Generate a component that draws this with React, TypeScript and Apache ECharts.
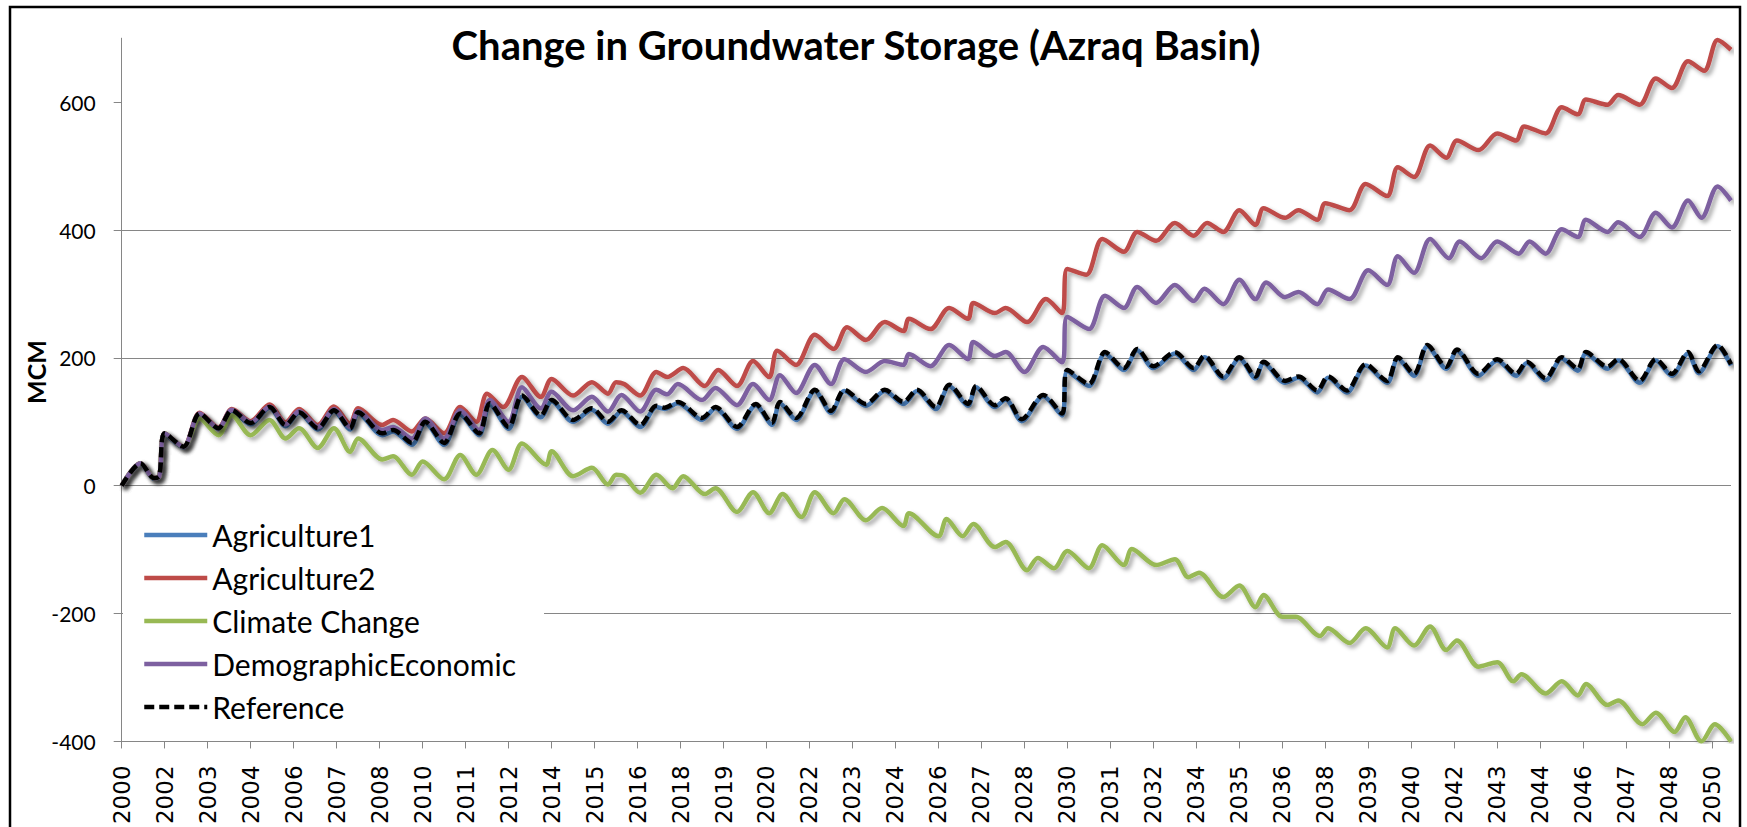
import React, { useEffect, useRef } from 'react';
import * as echarts from 'echarts';

const tickLabels = ['2000','2002','2003','2004','2006','2007','2008','2010','2011','2012','2014','2015','2016','2018','2019','2020','2022','2023','2024','2026','2027','2028','2030','2031','2032','2034','2035','2036','2038','2039','2040','2042','2043','2044','2046','2047','2048','2050'];
const yTicks = [-400, -200, 0, 200, 400, 600];

const seriesNames = ['Agriculture1', 'Agriculture2', 'Climate Change', 'DemographicEconomic', 'Reference'];

// [month index from Oct 2000, MCM]
const agriculture1 = [[0,0],[7,34],[12,11],[14,14],[16,80],[23,60],[29,112],[36,89],[41,117],[48,96],[55,122],[61,93],[66,114],[73,88],[79,117],[85,88],[88,113],[97,79],[101,85],[108,64],[113,98],[120,64],[126,111],[133,79],[137,127],[144,89],[149,139],[156,107],[160,132],[168,100],[175,119],[181,97],[186,116],[193,92],[199,123],[202,120],[207,129],[216,103],[221,121],[229,89],[236,126],[242,95],[245,129],[251,103],[258,148],[264,114],[269,148],[277,125],[284,148],[291,128],[296,148],[303,120],[308,156],[315,125],[318,154],[325,123],[329,135],[335,101],[343,140],[350,110],[352,179],[360,156],[366,207],[373,181],[378,212],[384,184],[392,207],[399,181],[403,201],[410,168],[416,199],[422,168],[425,192],[433,161],[438,169],[445,146],[449,169],[456,146],[463,188],[471,161],[475,199],[481,172],[486,218],[493,183],[497,211],[505,172],[512,196],[519,172],[523,192],[530,165],[536,199],[542,180],[545,207],[553,183],[557,196],[565,161],[571,196],[577,172],[583,207],[587,176],[594,218],[599,188]];

const agriculture2 = [[0,0],[7,35],[12,12],[14,15],[16,82],[23,61],[29,114],[36,91],[41,120],[48,101],[55,127],[61,99],[66,120],[73,95],[79,124],[85,97],[88,121],[97,95],[101,103],[108,85],[113,105],[120,82],[126,123],[132,100],[136,144],[142,123],[149,170],[156,139],[160,167],[168,141],[175,162],[181,144],[184,162],[187,159],[193,141],[199,178],[203,170],[209,184],[217,156],[222,181],[229,156],[235,195],[241,170],[244,211],[251,189],[258,236],[265,214],[270,248],[277,228],[284,256],[291,242],[293,261],[301,245],[308,278],[315,261],[317,286],[325,270],[329,278],[337,256],[344,292],[350,270],[352,339],[359,330],[365,386],[373,366],[378,397],[385,383],[392,411],[399,391],[404,411],[410,397],[416,431],[422,408],[425,434],[433,419],[438,431],[445,416],[448,442],[457,431],[463,472],[471,453],[475,498],[481,483],[487,532],[493,513],[497,540],[505,525],[512,551],[519,540],[522,562],[530,551],[536,592],[542,581],[545,604],[553,596],[557,611],[565,596],[571,637],[577,622],[583,664],[589,649],[594,697],[599,682]];

const climateChange = [[0,0],[7,35],[12,12],[14,15],[16,82],[23,61],[29,105],[36,79],[41,110],[48,79],[55,103],[61,74],[66,90],[73,59],[79,90],[85,53],[88,74],[97,41],[101,46],[108,17],[112,38],[120,10],[126,48],[132,17],[138,56],[144,25],[149,66],[158,33],[160,54],[168,15],[175,28],[181,2],[184,17],[187,15],[193,-11],[199,17],[205,-4],[209,15],[217,-13],[221,-4],[229,-41],[235,-10],[241,-43],[246,-13],[253,-49],[258,-10],[265,-43],[269,-21],[277,-54],[283,-35],[291,-63],[293,-43],[304,-79],[307,-52],[313,-79],[317,-60],[325,-96],[329,-88],[337,-132],[341,-113],[347,-129],[352,-102],[360,-129],[365,-93],[373,-124],[376,-99],[385,-124],[392,-115],[397,-143],[401,-136],[410,-174],[416,-156],[422,-190],[425,-171],[432,-205],[437,-205],[446,-235],[449,-223],[457,-246],[463,-223],[471,-253],[474,-223],[481,-250],[487,-220],[493,-257],[497,-242],[505,-283],[512,-276],[518,-306],[521,-295],[530,-325],[536,-306],[542,-328],[545,-310],[553,-343],[557,-336],[566,-373],[571,-355],[578,-385],[582,-362],[588,-400],[593,-373],[599,-400]];

const demographicEconomic = [[0,0],[7,35],[12,12],[14,15],[16,82],[23,61],[29,113],[36,90],[41,119],[48,99],[55,124],[61,96],[66,117],[73,92],[79,120],[85,92],[88,117],[97,87],[101,92],[108,74],[113,105],[120,74],[126,118],[133,87],[137,134],[144,100],[149,154],[156,121],[160,147],[168,118],[175,139],[181,116],[186,142],[193,116],[199,150],[203,143],[207,159],[216,134],[221,153],[229,126],[235,159],[241,134],[245,173],[251,145],[258,189],[264,159],[269,198],[277,178],[284,195],[291,189],[293,206],[301,187],[308,220],[315,198],[317,225],[325,203],[329,209],[336,178],[343,217],[350,193],[352,264],[360,245],[366,297],[373,278],[378,311],[385,286],[392,314],[399,289],[403,308],[410,284],[416,322],[422,292],[426,318],[433,295],[438,303],[445,284],[449,307],[457,292],[464,337],[471,314],[475,359],[481,333],[487,386],[494,356],[498,382],[506,356],[512,382],[520,363],[524,382],[530,363],[536,401],[542,389],[545,416],[553,397],[557,412],[565,389],[571,427],[577,404],[583,446],[588,419],[594,468],[599,446]];

const reference = [[0,0],[7,35],[12,12],[14,15],[16,82],[23,61],[29,113],[36,90],[41,118],[48,98],[55,123],[61,95],[66,115],[73,90],[79,118],[85,90],[88,115],[97,82],[101,87],[108,67],[113,100],[120,67],[126,113],[133,82],[137,129],[144,92],[149,141],[156,110],[160,134],[168,103],[175,121],[181,100],[186,118],[193,95],[199,125],[202,122],[207,131],[216,106],[221,123],[229,92],[236,128],[242,98],[245,131],[251,106],[258,150],[264,117],[269,150],[277,128],[284,150],[291,131],[296,150],[303,123],[308,158],[315,128],[318,156],[325,126],[329,137],[335,104],[343,142],[350,113],[352,181],[360,159],[366,209],[373,184],[378,214],[384,187],[392,209],[399,184],[403,203],[410,171],[416,201],[422,171],[425,194],[433,164],[438,171],[445,149],[449,171],[456,149],[463,190],[471,164],[475,201],[481,175],[486,220],[493,186],[497,213],[505,175],[512,198],[519,175],[523,194],[530,168],[536,201],[542,183],[545,209],[553,186],[557,198],[565,164],[571,198],[577,175],[583,209],[587,179],[594,220],[599,190]];

const seriesData = [agriculture1, agriculture2, climateChange, demographicEconomic, reference];
const seriesColors = ['#4A7EBB', '#BE4B48', '#98B954', '#7D60A0', '#000000'];

const START_YEAR = 2000;
const START_MONTH = 9; // October (0-based)
const MONTH_COUNT = 600;
const TICK_EVERY = 16;
const months: string[] = [];
for (let i = 0; i < MONTH_COUNT; i++) {
  const t = START_MONTH + i;
  const y = START_YEAR + Math.floor(t / 12);
  const m = (t % 12) + 1;
  months.push(`${y}-${m < 10 ? '0' + m : m}`);
}

const gridColor = '#868686';

export default function App() {
  const ref = useRef<HTMLDivElement>(null);
  useEffect(() => {
    const chart = echarts.init(ref.current!, null, { renderer: 'svg' });
    chart.setOption({
      animation: false,
      backgroundColor: '#ffffff',
      grid: { left: 121.7, right: 16, top: 38.2, bottom: 77.7, containLabel: false, show: false },
      graphic: [
        {
          type: 'rect',
          z: 100,
          shape: { x: 10, y: 7, width: 1730, height: 900 },
          style: { fill: 'none', stroke: '#000', lineWidth: 2.5 },
        },
        {
          type: 'text',
          x: 856,
          y: 45,
          style: {
            text: 'Change in Groundwater Storage (Azraq Basin)',
            fontFamily: 'Lato',
            fontWeight: 'bold',
            fontSize: 40,
            fill: '#000',
            align: 'center',
            verticalAlign: 'middle',
          },
        },
        {
          type: 'text',
          x: 36,
          y: 372,
          rotation: Math.PI / 2,
          style: {
            text: 'MCM',
            fontFamily: 'Lato',
            fontWeight: 'bold',
            fontSize: 25,
            fill: '#000',
            align: 'center',
            verticalAlign: 'middle',
          },
        },
      ],
      legend: {
        orient: 'vertical',
        left: 123,
        top: 510,
        itemWidth: 63,
        itemHeight: 14,
        itemGap: 13,
        padding: [10, 28, 10, 19],
        backgroundColor: '#ffffff',
        itemStyle: { opacity: 0 },
        lineStyle: { width: 4.5 },
        textStyle: { fontFamily: 'Lato', fontSize: 30, lineHeight: 30, color: '#000' },
        data: seriesNames,
      },
      xAxis: {
        type: 'category',
        data: months,
        boundaryGap: false,
        axisLine: { onZero: false, lineStyle: { color: gridColor, width: 1 } },
        axisTick: {
          interval: (idx: number) => idx % TICK_EVERY === 0,
          length: 7,
          lineStyle: { color: gridColor },
        },
        axisLabel: {
          interval: (idx: number) => idx % TICK_EVERY === 0,
          rotate: 90,
          margin: 24,
          fontFamily: 'DejaVu Sans',
          fontSize: 23,
          color: '#000',
          formatter: (_v: string, idx: number) => tickLabels[Math.round(idx / TICK_EVERY)] ?? '',
        },
        splitLine: { show: false },
        splitArea: { show: false },
      },
      yAxis: {
        type: 'value',
        min: -400,
        max: 700,
        interval: 200,
        axisLine: { show: true, onZero: false, lineStyle: { color: gridColor, width: 1 } },
        axisTick: { show: true, length: 8, customValues: yTicks, lineStyle: { color: gridColor } },
        axisLabel: {
          margin: 26,
          fontFamily: 'Lato',
          fontSize: 21,
          color: '#000',
          formatter: (v: number) => (v > 600 ? '' : String(v)),
        },
        splitLine: { show: true, showMaxLine: false, lineStyle: { color: gridColor, width: 1 } },
      },
      series: seriesNames.map((name, i) => ({
        name,
        type: 'line',
        data: seriesData[i],
        symbol: 'none',
        smooth: 0.3,
        color: seriesColors[i],
        lineStyle: {
          color: seriesColors[i],
          width: 4.5,
          type: name === 'Reference' ? [10, 5] : 'solid',
          shadowColor: 'rgba(0,0,0,0.35)',
          shadowBlur: 4,
          shadowOffsetX: 3,
          shadowOffsetY: 3,
        },
      })),
    });
    return () => chart.dispose();
  }, []);
  return (
    <div
      ref={ref}
      style={{ position: 'absolute', left: 0, top: 0, width: 1747, height: 827, background: '#fff' }}
    />
  );
}
